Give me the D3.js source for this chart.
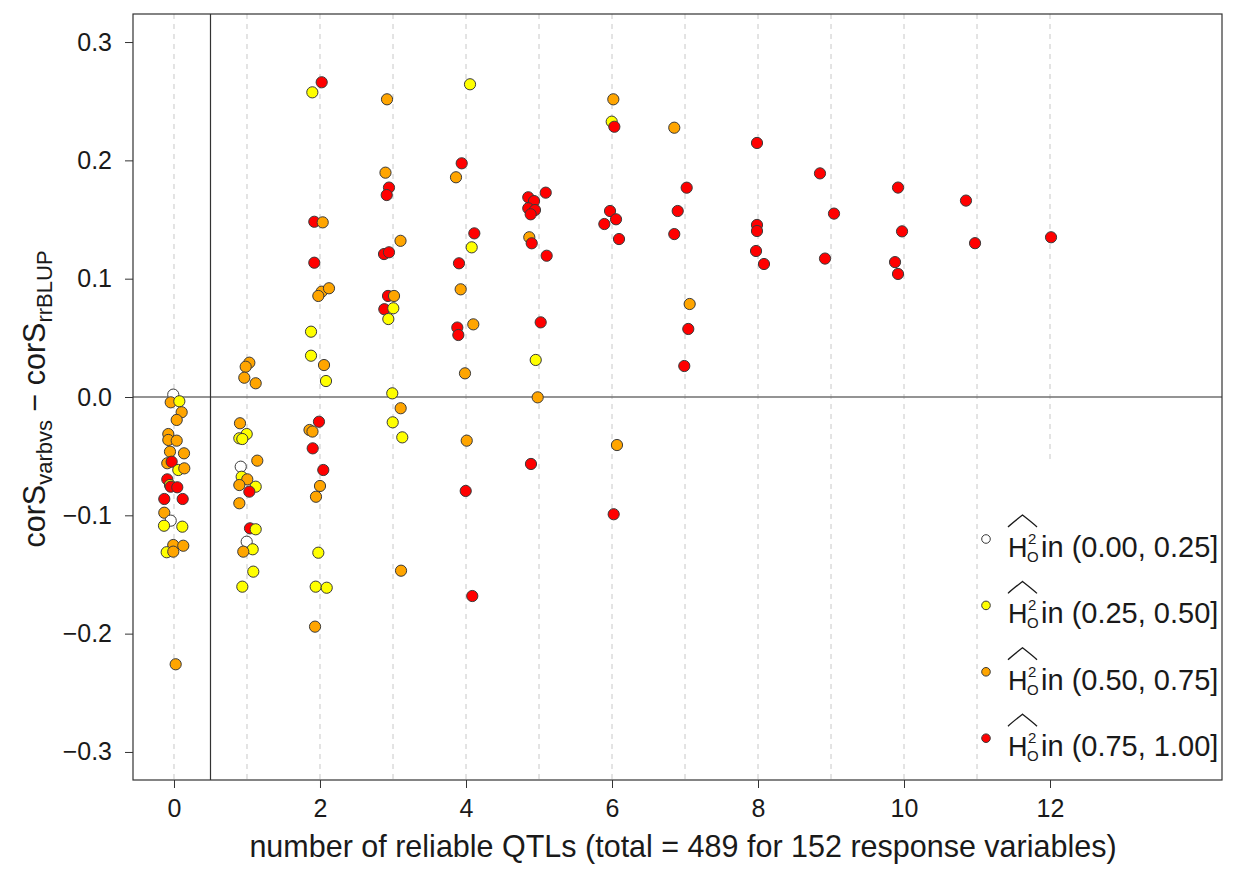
<!DOCTYPE html>
<html><head><meta charset="utf-8">
<script src="https://cdn.jsdelivr.net/npm/d3@7"></script>
<style>body{margin:0;background:#fff}svg text{font-family:"Liberation Sans",Arial,sans-serif}</style>
</head><body><svg id="c" width="1233" height="869"></svg>
<script>
// number of reliable QTLs (jittered), difference in correlation, heritability class (0..3)
const qtlJit = [
 -0.01,-0.045,0.073,0.105,0.037,-0.078,-0.078,0.037,-0.055,0.137,-0.092,-0.032,0.059,0.141,-0.092,-0.055,-0.045,0.045,-0.133,0.119,-0.133,-0.045,-0.137,0.114,-0.01,0.127,-0.1,-0.01,0.023,
 1.032,0.982,0.963,1.119,0.904,0.996,0.895,0.936,0.914,1.141,0.927,1.004,0.895,1.119,1.032,0.895,1.041,1.119,0.996,1.078,0.949,1.086,0.936,
 2.023,1.895,1.922,2.037,1.922,2.023,2.123,1.977,1.877,1.877,2.055,2.082,1.986,1.856,1.897,1.9,2.045,2.0,1.945,1.977,1.941,2.092,1.932,
 2.918,2.897,2.945,2.914,3.103,2.877,2.945,2.932,3.014,2.881,3.004,2.936,2.99,3.105,2.996,3.127,3.11,
 4.055,3.941,3.863,4.114,4.078,3.904,3.927,4.1,3.881,3.895,3.986,4.01,3.996,4.086,
 5.092,4.853,4.932,4.853,4.945,4.886,4.867,4.9,5.105,5.023,4.955,4.982,4.89,
 6.018,5.996,6.032,5.973,6.055,5.895,6.096,6.068,6.023,
 6.853,7.023,6.9,6.853,7.064,7.045,6.99,
 7.986,7.986,7.986,7.973,8.082,
 8.849,9.041,8.918,
 9.918,9.973,9.877,9.918,
 10.849,10.973,
 12.014];
const corDiff = [
 0.002,-0.0045,-0.0036,-0.0129,-0.0194,-0.0313,-0.0363,-0.0369,-0.0462,-0.0476,-0.056,-0.0547,-0.0617,-0.0603,-0.0696,-0.0744,-0.0758,-0.0763,-0.0862,-0.0862,-0.0978,-0.1045,-0.1088,-0.1096,-0.1251,-0.1257,-0.1312,-0.1307,-0.2259,
 0.029,0.0256,0.0163,0.0116,-0.0222,-0.0313,-0.0349,-0.0355,-0.0589,-0.0538,-0.0674,-0.0696,-0.0744,-0.0758,-0.08,-0.0898,-0.111,-0.1118,-0.1223,-0.1287,-0.1307,-0.1476,-0.1603,
 0.266,0.2575,0.1481,0.1476,0.1135,0.089,0.0919,0.0854,0.0552,0.0349,0.027,0.0135,-0.0209,-0.0279,-0.0292,-0.0434,-0.0617,-0.0752,-0.0843,-0.1316,-0.1603,-0.1612,-0.1941,
 0.2516,0.1896,0.177,0.1707,0.132,0.1208,0.1223,0.0854,0.0854,0.0742,0.075,0.0659,0.0031,-0.0095,-0.0214,-0.0341,-0.1468,
 0.2643,0.1975,0.1857,0.1383,0.1265,0.113,0.091,0.0614,0.0587,0.0524,0.02,-0.0369,-0.0794,-0.1682,
 0.1727,0.1688,0.1656,0.1595,0.158,0.1544,0.135,0.1299,0.1194,0.0631,0.0313,-0.0003,-0.0566,
 0.2516,0.2327,0.2284,0.1572,0.1502,0.1462,0.1335,-0.0406,-0.0991,
 0.2276,0.1769,0.1572,0.1377,0.0786,0.0575,0.0262,
 0.2147,0.1454,0.1403,0.1234,0.1124,
 0.189,0.155,0.117,
 0.177,0.14,0.114,0.104,
 0.166,0.13,
 0.135];
const h2Class = [
 0,2,1,2,2,2,2,2,2,2,2,3,1,2,3,1,3,3,3,3,2,0,1,1,2,2,1,2,2,
 2,2,2,2,2,1,1,1,0,2,1,2,2,1,3,2,3,1,0,1,2,1,1,
 3,1,3,2,3,2,2,2,1,1,2,1,3,2,2,3,3,2,2,1,1,1,2,
 2,2,3,3,2,3,3,3,2,3,1,1,1,2,1,1,2,
 1,3,2,3,1,3,2,2,3,3,2,2,3,3,
 3,3,3,3,3,3,2,3,3,3,1,2,3,
 2,1,3,3,3,3,3,2,3,
 2,3,3,3,2,3,3,
 3,3,3,3,3,
 3,3,3,
 3,3,3,3,
 3,3,
 3];
const classColors = ["#ffffff","#ffff00","#ffa500","#ff0000"];
const classLabels = ["in (0.00, 0.25]","in (0.25, 0.50]","in (0.50, 0.75]","in (0.75, 1.00]"];
const xTicks = [0,2,4,6,8,10,12];
const yTicks = [-0.3,-0.2,-0.1,0.0,0.1,0.2,0.3];
const gridX = d3.range(0,13);

const FS_TICK = 25, FS_TITLE = 30.5, FS_LEG = 29, TXT = "#1a1a1a";
const svg = d3.select("#c");
const L=133,R=1222,T=14,B=780;
const x = d3.scaleLinear().domain([-0.5616,14.356]).range([L,R]);
const y = d3.scaleLinear().domain([-0.3237,0.3237]).range([B,T]);

// grid dashed lines
svg.append("g").selectAll("line").data(gridX).join("line")
 .attr("x1",d=>x(d)).attr("x2",d=>x(d)).attr("y1",T).attr("y2",B)
 .attr("stroke","#c8c8c8").attr("stroke-width",1).attr("stroke-dasharray","5,5");
// zero line
svg.append("line").attr("x1",L).attr("x2",R).attr("y1",y(0)).attr("y2",y(0)).attr("stroke","#707070").attr("stroke-width",1.5);
// separator at 0.5
svg.append("line").attr("x1",x(0.5)).attr("x2",x(0.5)).attr("y1",T).attr("y2",B).attr("stroke","#333").attr("stroke-width",1.2);

// points
const pts = d3.range(qtlJit.length);
svg.append("g").selectAll("circle").data(pts).join("circle")
 .attr("cx",i=>x(qtlJit[i])).attr("cy",i=>y(corDiff[i])).attr("r",5.6)
 .attr("fill",i=>classColors[h2Class[i]]).attr("stroke","#3a3a3a").attr("stroke-width",1);

// legend
const lg = svg.append("g");
lg.append("rect").attr("x",979).attr("y",462).attr("width",R-979).attr("height",B-462).attr("fill","#fff");
classLabels.forEach((lab,i)=>{
  const cy = 539 + i*66.4;
  lg.append("circle").attr("cx",986).attr("cy",cy).attr("r",4.3).attr("fill",classColors[i]).attr("stroke","#3a3a3a").attr("stroke-width",1);
  const tx = 1008, base = cy+18;
  const t = lg.append("text").attr("x",tx).attr("y",base).attr("fill",TXT);
  t.append("tspan").attr("font-size",27).text("H");
  t.append("tspan").attr("font-size",15).attr("x",tx+20).attr("y",base-13).text("2");
  t.append("tspan").attr("font-size",15).attr("x",tx+19).attr("y",base+5).text("O");
  lg.append("path").attr("d",`M${tx},${cy-12} Q${tx+3},${cy-15} ${tx+14.5},${cy-24} Q${tx+26},${cy-15} ${tx+29},${cy-12}`)
    .attr("fill","none").attr("stroke",TXT).attr("stroke-width",1.3);
  lg.append("text").attr("x",1041).attr("y",base).attr("font-size",FS_LEG).attr("fill",TXT).text(lab);
});

// frame
svg.append("rect").attr("x",L).attr("y",T).attr("width",R-L).attr("height",B-T).attr("fill","none").attr("stroke","#333").attr("stroke-width",1.2);

// axes
const fmt = d=> (d<0?"\u2212":"") + Math.abs(d).toFixed(1);
const ya = svg.append("g").attr("transform",`translate(${L},0)`)
 .call(d3.axisLeft(y).tickValues(yTicks).tickFormat(fmt).tickSize(8).tickPadding(13));
const xa = svg.append("g").attr("transform",`translate(0,${B})`)
 .call(d3.axisBottom(x).tickValues(xTicks).tickFormat(d3.format("d")).tickSize(8).tickPadding(11));
[ya,xa].forEach(a=>{a.select(".domain").remove();a.selectAll("line").attr("stroke","#333");
  a.selectAll("text").attr("font-size",FS_TICK).attr("fill",TXT).attr("font-family","Liberation Sans, Arial, sans-serif");});

// axis titles
svg.append("text").attr("x",683).attr("y",857).attr("text-anchor","middle").attr("font-size",FS_TITLE).attr("fill",TXT)
 .text("number of reliable QTLs (total = 489 for 152 response variables)");
const yt = svg.append("text").attr("transform","translate(45,399) rotate(-90)").attr("text-anchor","middle").attr("font-size",FS_TITLE).attr("fill",TXT);
yt.append("tspan").text("corS");
yt.append("tspan").attr("font-size",22).attr("dy",7).text("varbvs");
yt.append("tspan").attr("dy",-7).text(" \u2212 corS");
yt.append("tspan").attr("font-size",22).attr("dy",7).text("rrBLUP");
</script></body></html>
